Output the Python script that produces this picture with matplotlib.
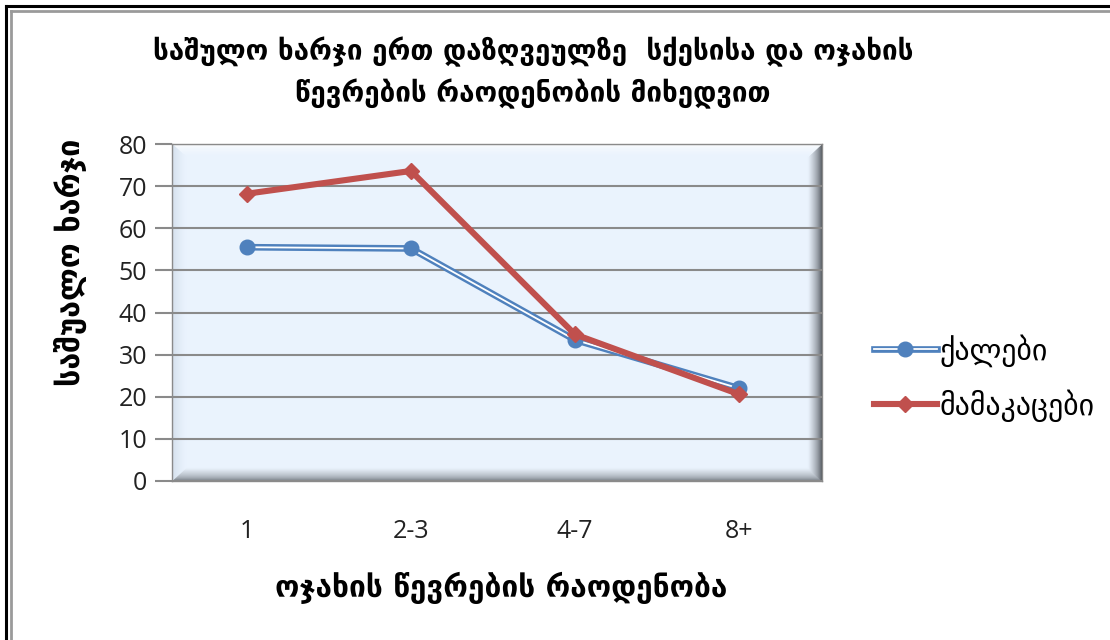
import matplotlib
matplotlib.use("Agg")
import matplotlib.pyplot as plt
import matplotlib.colors as mcolors
from matplotlib.patches import Polygon, Rectangle
from matplotlib.lines import Line2D
import matplotlib.patheffects as pe
import numpy as np

# data
categories = ["1", "2-3", "4-7", "8+"]
women = [55.5, 55.2, 33.5, 22.0]
men = [68.2, 73.6, 34.8, 20.6]
y_ticks = [0, 10, 20, 30, 40, 50, 60, 70, 80]

title = "საშულო ხარჯი ერთ დაზღვეულზე  სქესისა და ოჯახის\nწევრების რაოდენობის მიხედვით"
y_label = "საშუალო ხარჯი"
x_label = "ოჯახის წევრების რაოდენობა"
series_names = ["ქალები", "მამაკაცები"]

geo_font = ["DejaVu Sans"]
num_font = ["Open Sans", "DejaVu Sans"]

blue = "#4f81bd"
red = "#c0504d"
grid_col = "#8a8a8a"

fig = plt.figure(figsize=(11.1, 6.4), dpi=100)
W, H = 1110, 640

# outer frame (cropped on right / bottom)
fig.add_artist(Line2D([6 / W, 6 / W], [0, 1 - 6 / H], color="black", lw=2.2, transform=fig.transFigure))
fig.add_artist(Line2D([6 / W, 1.0], [1 - 6 / H, 1 - 6 / H], color="black", lw=2.2, transform=fig.transFigure))
fig.add_artist(Line2D([10.5 / W, 10.5 / W], [0, 1 - 10.5 / H], color="#9a9a9a", lw=2.0, transform=fig.transFigure))
fig.add_artist(Line2D([10.5 / W, 1.0], [1 - 10.5 / H, 1 - 10.5 / H], color="#9a9a9a", lw=2.0, transform=fig.transFigure))

ax = fig.add_axes([172 / W, 1 - 481 / H, 650 / W, 337 / H])
x = np.arange(len(categories))

# plot area fill
inner = "#eaf3fd"
ax.add_patch(Rectangle((0, 0), 1, 1, transform=ax.transAxes, facecolor=inner, edgecolor="none", zorder=0))

# bevel edges
dx, dy = 14 / 650, 13 / 337


def corner(name, s):
    return {"BL": (s * dx, s * dy), "BR": (1 - s * dx, s * dy),
            "TR": (1 - s * dx, 1 - s * dy), "TL": (s * dx, 1 - s * dy)}[name]


sides = {"bottom": ("BL", "BR", "#5f656c"),
         "right": ("BR", "TR", "#3f444a"),
         "top": ("TR", "TL", "#ffffff"),
         "left": ("TL", "BL", "#cfdbe8")}
n = 14
for side, (a, b, edge_col) in sides.items():
    c0 = np.array(mcolors.to_rgb(edge_col))
    c1 = np.array(mcolors.to_rgb(inner))
    for i in range(n):
        t0, t1 = i / n, (i + 1) / n
        tm = (t0 + t1) / 2
        col = c0 + (c1 - c0) * (tm ** 0.6)
        poly = [corner(a, t0), corner(b, t0), corner(b, t1), corner(a, t1)]
        ax.add_patch(Polygon(poly, closed=True, transform=ax.transAxes,
                             facecolor=col, edgecolor=col, lw=0.3, zorder=0.5))

ax.set_xlim(-0.457, 3.506)
ax.set_ylim(0, 80)

for v in y_ticks:
    ax.axhline(v, color=grid_col, lw=1.5, zorder=1)

# women: double (compound) blue line
ax.plot(x, women, color="white", lw=1.3, zorder=3, solid_capstyle="round",
        path_effects=[pe.Stroke(linewidth=4.8, foreground=blue), pe.Normal()])
wm, = ax.plot(x, women, linestyle="none", marker="o", markersize=10.5,
              color=blue, markeredgecolor=blue, zorder=4)
wl = Line2D([], [], color="white", lw=1.3,
            path_effects=[pe.Stroke(linewidth=4.8, foreground=blue), pe.Normal()])

# men: thick red line with diamonds
ml, = ax.plot(x, men, color=red, lw=4.4, marker="D", markersize=8,
              markeredgecolor=red, zorder=5)

for s in ax.spines.values():
    s.set_color(grid_col)
    s.set_linewidth(1.0)

ax.set_xticks(x)
ax.set_xticklabels(categories, family=num_font, fontsize=18, color="#222222")
ax.set_yticks(y_ticks)
ax.set_yticklabels([str(v) for v in y_ticks], family=num_font, fontsize=18, color="#222222")
ax.tick_params(axis="x", length=0, pad=27)
ax.tick_params(axis="y", length=12, width=1.5, color=grid_col, pad=6)

fig.text(533 / W, 1 - 73 / H, title, ha="center", va="center", family=geo_font,
         fontsize=20, fontweight="bold", linespacing=1.5)
fig.text(70 / W, 1 - 262 / H, y_label, ha="center", va="center", rotation=90,
         family=geo_font, fontsize=22, fontweight="bold")
fig.text(501 / W, 1 - 588 / H, x_label, ha="center", va="center",
         family=geo_font, fontsize=21.5, fontweight="bold")

leg = fig.legend([(wl, wm), ml], series_names, loc="center left",
                 bbox_to_anchor=(862 / W, 1 - 378 / H), frameon=False,
                 prop={"family": geo_font, "size": 21.5}, handlelength=2.1,
                 labelspacing=0.75, handletextpad=0.1, borderaxespad=0)

fig.savefig("out.png", dpi=100)
